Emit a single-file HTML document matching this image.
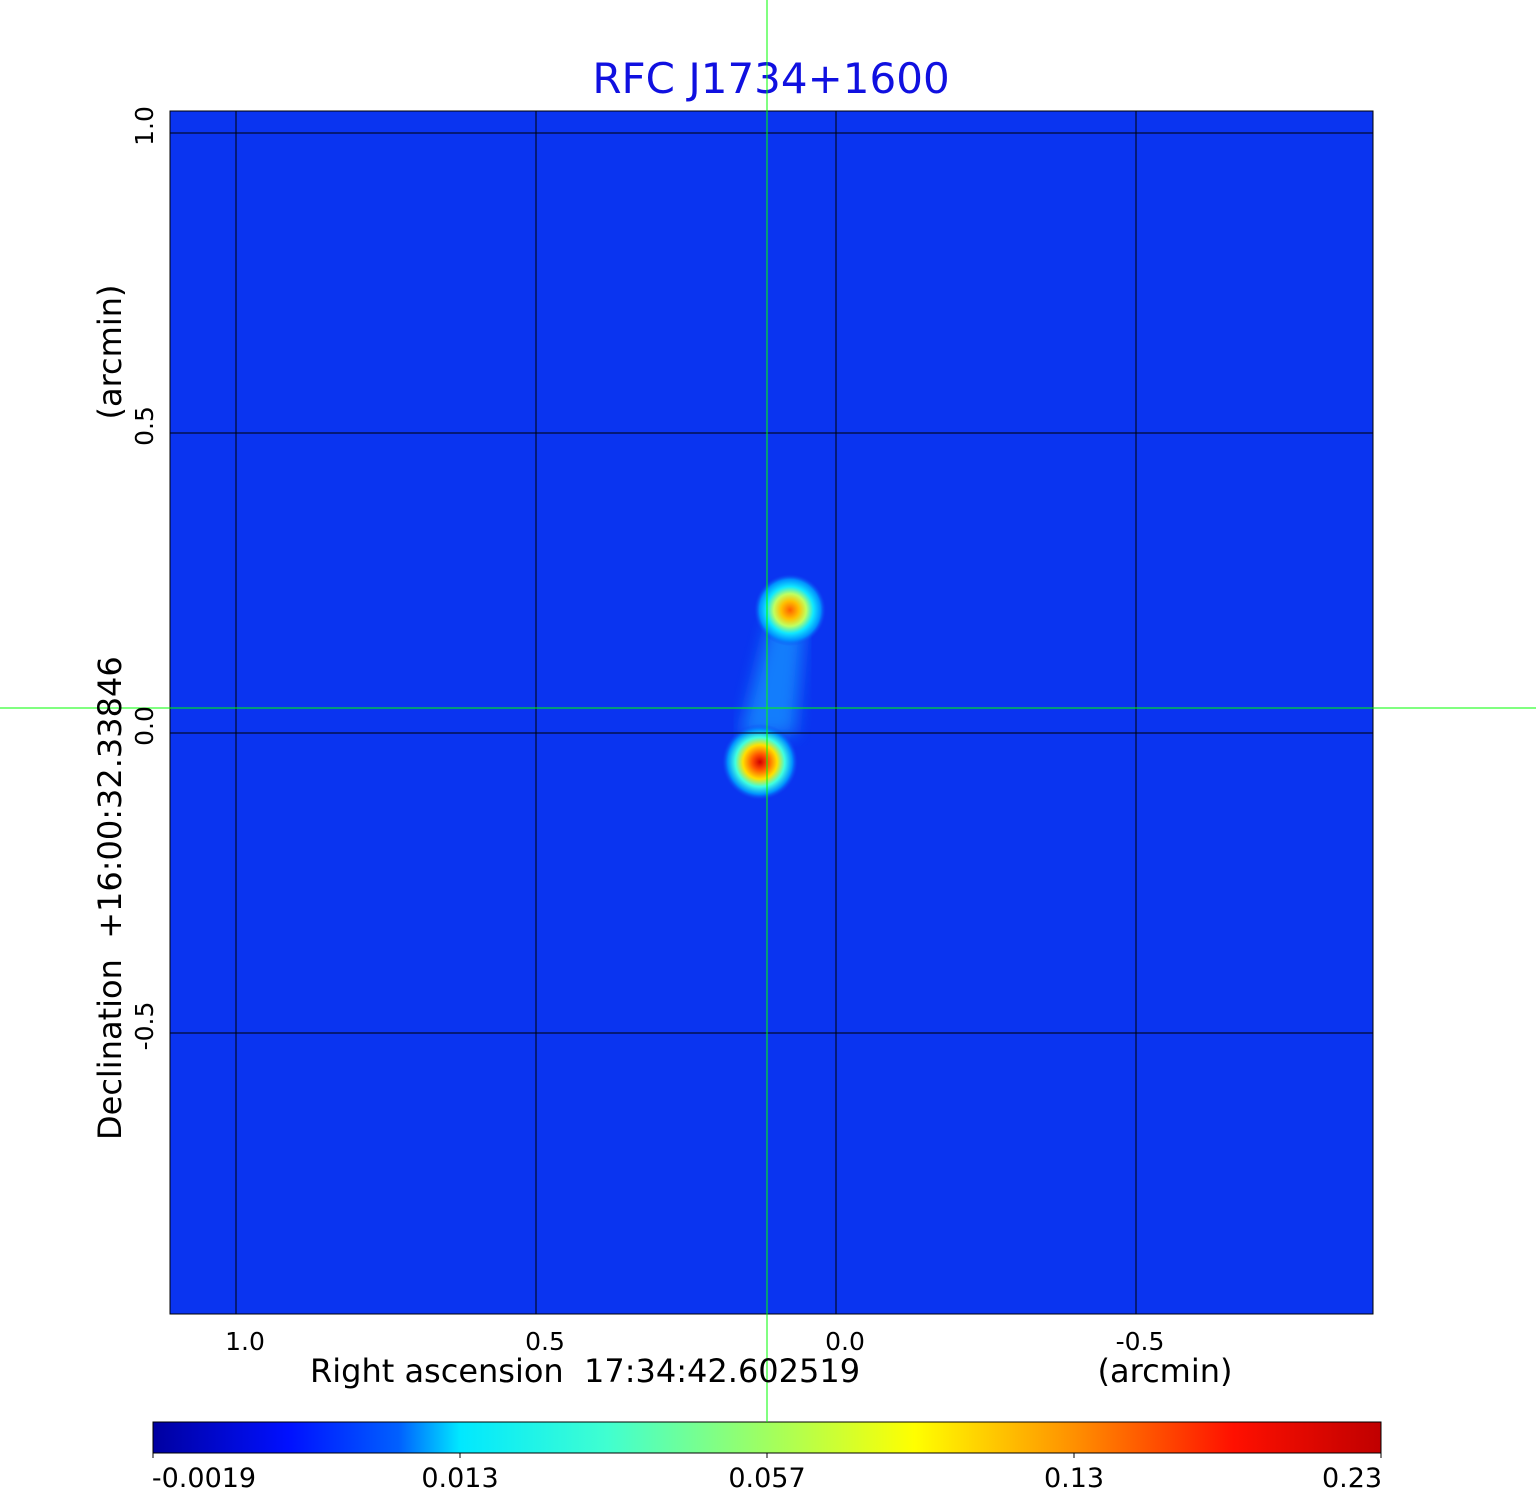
<!DOCTYPE html>
<html><head><meta charset="utf-8"><style>
body{margin:0;background:#fff;}
svg{display:block;font-family:"DejaVu Sans","Liberation Sans",sans-serif;}
</style></head><body>
<svg width="1536" height="1511" viewBox="0 0 1536 1511">
<defs>
<radialGradient id="b1" cx="0.5" cy="0.5" r="0.5">
<stop offset="0" stop-color="#d00000"/>
<stop offset="0.2" stop-color="#ff5000"/>
<stop offset="0.45" stop-color="#ffe000"/>
<stop offset="0.65" stop-color="#40ffe0"/>
<stop offset="0.85" stop-color="#0090ff"/>
<stop offset="1" stop-color="#1040f0" stop-opacity="0"/>
</radialGradient>
<radialGradient id="b2" cx="0.5" cy="0.5" r="0.5">
<stop offset="0" stop-color="#ff6000"/>
<stop offset="0.25" stop-color="#ffc000"/>
<stop offset="0.45" stop-color="#c0ff60"/>
<stop offset="0.65" stop-color="#10e8ff"/>
<stop offset="0.85" stop-color="#0090ff"/>
<stop offset="1" stop-color="#1040f0" stop-opacity="0"/>
</radialGradient>
<linearGradient id="jet" x1="0" x2="1" y1="0" y2="0">
<stop offset="0" stop-color="#0000a0"/>
<stop offset="0.11" stop-color="#0010ff"/>
<stop offset="0.2" stop-color="#0060ff"/>
<stop offset="0.25" stop-color="#00e8ff"/>
<stop offset="0.37" stop-color="#40ffd0"/>
<stop offset="0.5" stop-color="#a0ff60"/>
<stop offset="0.62" stop-color="#ffff00"/>
<stop offset="0.75" stop-color="#ff9000"/>
<stop offset="0.88" stop-color="#ff1000"/>
<stop offset="1" stop-color="#c00000"/>
</linearGradient>
<filter id="blur"><feGaussianBlur stdDeviation="8"/></filter>
</defs>
<text x="771" y="93" font-size="42" fill="#1010e0" text-anchor="middle">RFC J1734+1600</text>
<rect x="170" y="111" width="1203" height="1203" fill="#0a34f0"/>
<polygon points="770,620 805,620 795,735 740,735" fill="#1690ff" opacity="0.8" filter="url(#blur)"/>
<circle cx="790" cy="610" r="36" fill="url(#b2)"/>
<circle cx="760" cy="762" r="38" fill="url(#b1)"/>
<g stroke="#000" stroke-width="1">
<line x1="236" y1="111" x2="236" y2="1314"/>
<line x1="536" y1="111" x2="536" y2="1314"/>
<line x1="836" y1="111" x2="836" y2="1314"/>
<line x1="1136" y1="111" x2="1136" y2="1314"/>
<line x1="170" y1="133" x2="1373" y2="133"/>
<line x1="170" y1="433" x2="1373" y2="433"/>
<line x1="170" y1="733" x2="1373" y2="733"/>
<line x1="170" y1="1033" x2="1373" y2="1033"/>
</g>
<rect x="170" y="111" width="1203" height="1203" fill="none" stroke="#000" stroke-width="1"/>
<g stroke="#00ff00" stroke-width="1">
<line x1="767" y1="0" x2="767" y2="1418"/>
<line x1="0" y1="708" x2="1536" y2="708"/>
</g>
<g font-size="25" fill="#000" text-anchor="middle">
<text x="245" y="1350">1.0</text>
<text x="545" y="1350">0.5</text>
<text x="845" y="1350">0.0</text>
<text x="1140" y="1350">-0.5</text>
</g>
<text x="310" y="1382" font-size="32" fill="#000">Right ascension&#160; 17:34:42.602519</text>
<text x="1165" y="1382" font-size="32" fill="#000" text-anchor="middle">(arcmin)</text>
<g font-size="25" fill="#000" text-anchor="middle">
<text transform="translate(153,126) rotate(-90)">1.0</text>
<text transform="translate(153,426) rotate(-90)">0.5</text>
<text transform="translate(153,726) rotate(-90)">0.0</text>
<text transform="translate(153,1026) rotate(-90)">-0.5</text>
</g>
<text transform="translate(121,1140) rotate(-90)" font-size="32" fill="#000">Declination&#160; +16:00:32.33846</text>
<text transform="translate(121,352) rotate(-90)" font-size="32" fill="#000" text-anchor="middle">(arcmin)</text>
<rect x="153" y="1422" width="1228" height="31" fill="url(#jet)" stroke="#000" stroke-width="1"/>
<g stroke="#000"><line x1="153" y1="1453" x2="153" y2="1458"/><line x1="460" y1="1453" x2="460" y2="1458"/><line x1="767" y1="1453" x2="767" y2="1458"/><line x1="1074" y1="1453" x2="1074" y2="1458"/><line x1="1381" y1="1453" x2="1381" y2="1458"/></g>
<line x1="767" y1="1418" x2="767" y2="1422" stroke="#00ff00"/>
<g font-size="27" fill="#000" text-anchor="middle">
<text x="204" y="1487">-0.0019</text>
<text x="460" y="1487">0.013</text>
<text x="767" y="1487">0.057</text>
<text x="1074" y="1487">0.13</text>
<text x="1352" y="1487">0.23</text>
</g>
</svg>
</body></html>
